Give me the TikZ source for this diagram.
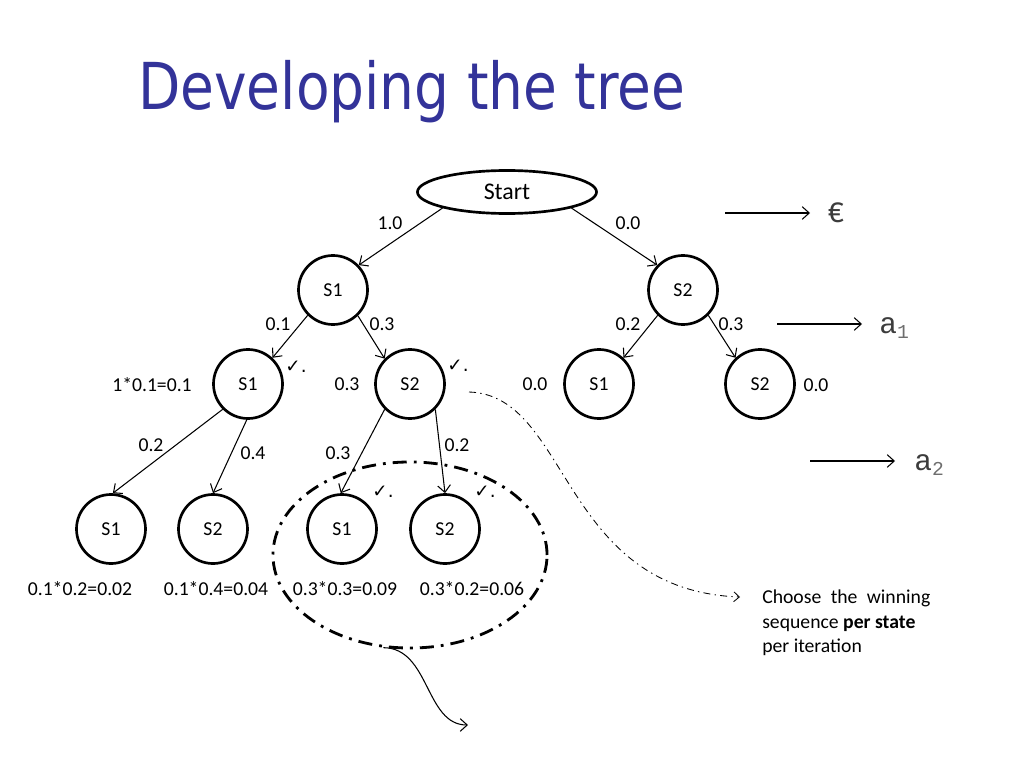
\documentclass[tikz,border=0pt]{standalone}
\usepackage{fontspec}
\usepackage{xcolor}
\setmainfont{Carlito}
\newfontfamily\titlefont{DejaVu Sans}
\newfontfamily\symbfont{DejaVu Sans}
\newfontfamily\codefont{Liberation Mono}
\usetikzlibrary{shapes.geometric,arrows.meta}
\definecolor{titleblue}{RGB}{51,51,153}
\definecolor{codegray}{RGB}{60,60,60}
\definecolor{subgray}{RGB}{110,110,110}

\begin{document}
\begin{tikzpicture}[x=0.025cm,y=-0.025cm,
        state/.style={circle,draw,line width=1.9pt,minimum size=1.725cm,inner sep=0pt,font=\fontsize{14}{16}\selectfont},
        lbl/.style={inner sep=0pt,font=\fontsize{14}{16}\selectfont},
        tick/.style={inner sep=0pt,font=\symbfont\fontsize{13}{15}\selectfont},
        branch/.style={-{Straight Barb[length=5pt,width=9pt]},line width=0.75pt},
        sym/.style={inner sep=0pt,anchor=base west,text=codegray,font=\codefont\fontsize{21}{24}\selectfont}]
            \useasboundingbox (0,0) rectangle (1024,768);

            \node (title) at (138,110) [anchor=base west,inner sep=0pt,text=titleblue,font=\titlefont\fontsize{46}{50}\selectfont] {\scalebox{0.85}[1]{Developing the tree}};

            % the tree
            \node (start) at (507,192) [ellipse,draw,line width=1.9pt,minimum width=4.475cm,minimum height=1.075cm,inner sep=0pt,font=\fontsize{17}{20}\selectfont] {Start};
            \node (s1) at (333,290) [state] {S1};
            \node (s2) at (683,290) [state] {S2};
            \node (s11) at (248,384) [state] {S1};
            \node (s12) at (410,384) [state] {S2};
            \node (s21) at (599,384) [state] {S1};
            \node (s22) at (760,384) [state] {S2};
            \node (s111) at (111,529) [state] {S1};
            \node (s112) at (213,529) [state] {S2};
            \node (s121) at (342,529) [state] {S1};
            \node (s122) at (445,529) [state] {S2};

            \draw[branch] (start.194) -- (s1.44);
            \draw[branch] (start.346) -- (s2.136);
            \draw[branch] (s1.225) -- (s11.47);
            \draw[branch] (s1.314) -- (s12.135);
            \draw[branch] (s2.225) -- (s21.47);
            \draw[branch] (s2.315) -- (s22.133);
            \draw[branch] (s11.225) -- (s111.87);
            \draw[branch] (s11.268) -- (s112.90);
            \draw[branch] (s12.225) -- (s121.92);
            \draw[branch] (s12.315) -- (s122.90);

            % probabilities
            \node (p1) at (390,223) [lbl] {1.0};
            \node (p2) at (628,223) [lbl] {0.0};
            \node (p11) at (278,324) [lbl] {0.1};
            \node (p12) at (382,324) [lbl] {0.3};
            \node (p21) at (628,324) [lbl] {0.2};
            \node (p22) at (731,324) [lbl] {0.3};
            \node (v11) at (152,385) [lbl] {1*0.1=0.1};
            \node (v12) at (347,384) [lbl] {0.3};
            \node (v21) at (535,384) [lbl] {0.0};
            \node (v22) at (816,385) [lbl] {0.0};
            \node (p111) at (151,445) [lbl] {0.2};
            \node (p112) at (253,453) [lbl] {0.4};
            \node (p121) at (338,453) [lbl] {0.3};
            \node (p122) at (457,445) [lbl] {0.2};
            \node (v111) at (80,589) [lbl] {0.1*0.2=0.02};
            \node (v112) at (216,589) [lbl] {0.1*0.4=0.04};
            \node (v121) at (345,589) [lbl] {0.3*0.3=0.09};
            \node (v122) at (472,589) [lbl] {0.3*0.2=0.06};

            \node (t11) at (296,367) [tick] {✓.};
            \node (t12) at (458,366) [tick] {✓.};
            \node (t121) at (383,492) [tick] {✓.};
            \node (t122) at (485,492) [tick] {✓.};

            % winners
            \node (grp) at (410,555) [ellipse,draw,line width=2pt,dash pattern=on 10pt off 5pt on 2pt off 5pt,minimum width=6.85cm,minimum height=4.65cm] {};
            \coordinate (next) at (468,725);
            \draw[-{Straight Barb[length=5pt,width=9pt]},line width=0.75pt] (grp.254) .. controls (430,648) and (425,725) .. (next);

            \coordinate (from) at (469,392);
            \node (note) at (762,590) [anchor=north west,inner sep=0pt,align=left,font=\fontsize{14}{17.4}\selectfont] {\makebox[4.2cm][s]{Choose the winning}\\sequence \textbf{per state}\\per iteration};
            \coordinate (to) at (740,597);
            \draw[-{Straight Barb[length=4pt,width=7pt]},line width=0.6pt,dash pattern=on 5pt off 3pt on 1pt off 3pt] (from) .. controls (570,395) and (560,590) .. (to);

            % levels
            \coordinate (e0) at (725,213);
            \coordinate (e1) at (810,213);
            \coordinate (a10) at (777,324);
            \coordinate (a11) at (862,324);
            \coordinate (a20) at (810,461);
            \coordinate (a21) at (895,461);
            \draw[branch] (e0) -- (e1);
            \draw[branch] (a10) -- (a11);
            \draw[branch] (a20) -- (a21);
            \node (eps) at (827,222) [sym] {€};
            \node (lev1) at (879,333) [sym] {a\raisebox{-0.35ex}{\textcolor{subgray}{\fontsize{14}{16}\selectfont 1}}};
            \node (lev2) at (914,470) [sym] {a\raisebox{-0.35ex}{\textcolor{subgray}{\fontsize{14}{16}\selectfont 2}}};

        \end{tikzpicture}
\end{document}
